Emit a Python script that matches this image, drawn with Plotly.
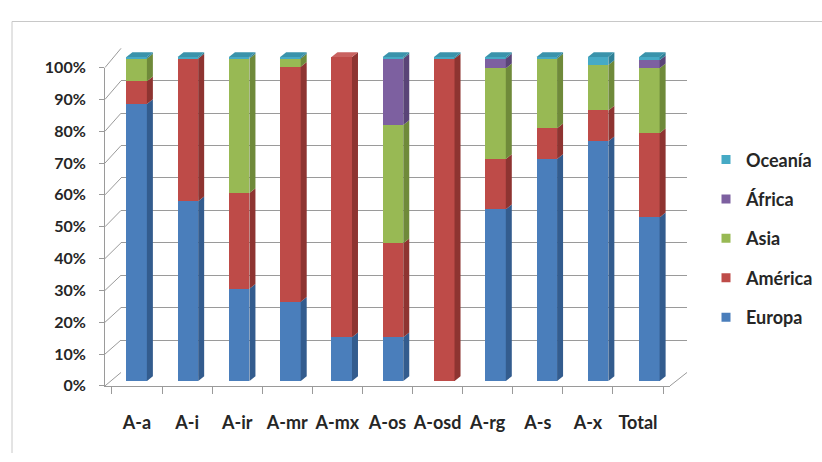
import plotly.graph_objects as go

# ---- data (share of each region per group, %) ----
categories = ["A-a", "A-i", "A-ir", "A-mr", "A-mx", "A-os", "A-osd", "A-rg", "A-s", "A-x", "Total"]
europa  = [85.5, 55.5, 28.5, 24.5, 13.5, 13.5, 0.0, 53.0, 68.5, 74.0, 50.5]
america = [7.0, 44.0, 29.5, 72.5, 86.5, 29.0, 99.5, 15.5, 9.5, 9.5, 26.0]
asia    = [7.0, 0.0, 41.5, 2.5, 0.0, 36.5, 0.0, 28.0, 21.5, 14.0, 20.0]
africa  = [0.0, 0.0, 0.0, 0.0, 0.0, 20.5, 0.0, 3.0, 0.0, 0.0, 2.5]
oceania = [0.5, 0.5, 0.5, 0.5, 0.0, 0.5, 0.5, 0.5, 0.5, 2.5, 1.0]
y_ticks = list(range(0, 101, 10))

# (name, values, front colour, side colour, top colour, legend rank)
series = [
    ("Europa",  europa,  "#4A7EBB", "#335C8E", "#5A8CC6", 5),
    ("América", america, "#BE4B48", "#8E3431", "#C96260", 4),
    ("Asia",    asia,    "#98B954", "#6F8A3A", "#A9C66B", 3),
    ("África",  africa,  "#7D60A0", "#5A4477", "#8F76AF", 2),
    ("Oceanía", oceania, "#46AAC5", "#2F8196", "#3A93AB", 1),
]

W, H = 822, 462


def px(x):
    return x / W


def py(y):
    return 1 - y / H


# pixel geometry of the pseudo-3D box
FRONT_L, FRONT_R = 105, 670          # front floor edge
FRONT_Y0, FRONT_Y100 = 392, 60       # front-left value axis
BACK_L, BACK_R = 121, 687            # back wall
BACK_Y0, BACK_Y100 = 378, 40
BAR_L, BAR_R = 111, 675              # bar plane
BAR_Y0, BAR_Y100 = 387, 49
BAR_YMAX = 103
PX_PER_UNIT = (BAR_Y0 - BAR_Y100) / 100

bar_width = 0.40
depth_dx = 6 / ((BAR_R - BAR_L) / len(categories))
depth_dy = 5 / PX_PER_UNIT

font_family = "Lato, 'Open Sans', sans-serif"
text_color = "#262626"
grid_color = "#9A9A9A"

fig = go.Figure()

# subplot 1: back wall with gridlines
fig.add_trace(go.Scatter(x=[0], y=[None], xaxis="x", yaxis="y", showlegend=False,
                         hoverinfo="skip", mode="markers"))
# subplot 2: front frame carrying the tick labels
fig.add_trace(go.Scatter(x=categories, y=[None] * len(categories), xaxis="x2", yaxis="y2",
                         showlegend=False, hoverinfo="skip", mode="markers"))
# subplot 3: the stacked columns
for name, vals, front, side, top, rank in series:
    fig.add_trace(go.Bar(
        x=categories, y=vals, name=name, xaxis="x3", yaxis="y3",
        marker=dict(color=front, line=dict(width=0)), width=bar_width,
        legendgroup=name, showlegend=False,
    ))
# legend keys with small square swatches
for name, vals, front, side, top, rank in series:
    fig.add_trace(go.Scatter(
        x=[None], y=[None], name=name, xaxis="x", yaxis="y", mode="markers",
        marker=dict(symbol="square", size=9, color=front),
        legendgroup=name, legendrank=rank, hoverinfo="skip",
    ))

shapes = []

# side and top faces of each column, built from the stacked values
for i in range(len(categories)):
    cum = 0.0
    top_col = None
    xl, xr = i - bar_width / 2, i + bar_width / 2
    for name, vals, front, side, top, rank in series:
        v = vals[i]
        if v <= 0:
            continue
        b, t = cum, cum + v
        shapes.append(dict(
            type="path", xref="x3", yref="y3", layer="above",
            path=f"M{xr},{b} L{xr + depth_dx},{b + depth_dy} L{xr + depth_dx},{t + depth_dy} L{xr},{t} Z",
            fillcolor=side, line=dict(width=0),
        ))
        cum = t
        top_col = top
    shapes.append(dict(
        type="path", xref="x3", yref="y3", layer="above",
        path=f"M{xl},{cum} L{xl + depth_dx},{cum + depth_dy} L{xr + depth_dx},{cum + depth_dy} L{xr},{cum} Z",
        fillcolor=top_col, line=dict(width=0),
    ))

# side-wall diagonals joining the front axis to the back gridlines
for v in y_ticks:
    yf = FRONT_Y0 + (FRONT_Y100 - FRONT_Y0) * v / 100
    yb = BACK_Y0 + (BACK_Y100 - BACK_Y0) * v / 100
    shapes.append(dict(type="line", xref="paper", yref="paper", layer="below",
                       x0=px(FRONT_L), y0=py(yf), x1=px(BACK_L), y1=py(yb),
                       line=dict(color=grid_color, width=1)))
# right floor edge
shapes.append(dict(type="line", xref="paper", yref="paper", layer="below",
                   x0=px(FRONT_R), y0=py(FRONT_Y0), x1=px(BACK_R), y1=py(BACK_Y0),
                   line=dict(color=grid_color, width=1)))
# chart area border (left and top edges fall inside the page)
shapes.append(dict(type="line", xref="paper", yref="paper", layer="below",
                   x0=px(12), y0=py(12), x1=1, y1=py(12),
                   line=dict(color="#C8C8C8", width=1)))
shapes.append(dict(type="line", xref="paper", yref="paper", layer="below",
                   x0=px(12), y0=py(12), x1=px(12), y1=0,
                   line=dict(color="#C8C8C8", width=1)))

y_font = dict(family=font_family, size=16, color=text_color, weight="bold")
x_font = dict(family=font_family, size=18, color=text_color, weight="bold")

fig.update_layout(
    width=W, height=H,
    margin=dict(l=0, r=0, t=0, b=0),
    paper_bgcolor="white", plot_bgcolor="rgba(0,0,0,0)",
    barmode="stack",
    shapes=shapes,
    showlegend=True,
    legend=dict(
        x=px(706), y=py(137), xanchor="left", yanchor="top",
        traceorder="grouped", tracegroupgap=13,
        font=dict(family=font_family, size=18, color=text_color, weight="bold"),
        bgcolor="rgba(0,0,0,0)",
    ),
    # back wall
    xaxis=dict(domain=[px(BACK_L), px(BACK_R)], range=[0, 1], showgrid=False,
               showticklabels=False, zeroline=False, showline=False, fixedrange=True),
    yaxis=dict(domain=[py(BACK_Y0), py(BACK_Y100)], range=[0, 100], tickvals=y_ticks,
               showgrid=True, gridcolor=grid_color, gridwidth=1, showticklabels=False,
               zeroline=False, showline=False, fixedrange=True, anchor="x"),
    # front frame with tick labels
    xaxis2=dict(domain=[px(FRONT_L), px(FRONT_R)], type="category",
                categoryorder="array", categoryarray=categories,
                tickson="boundaries", ticks="outside", ticklen=7, tickcolor=grid_color,
                showline=True, linecolor=grid_color, linewidth=1, showgrid=False,
                tickangle=0, ticklabelstandoff=21,
                tickfont=x_font, anchor="y2", fixedrange=True),
    yaxis2=dict(domain=[py(FRONT_Y0), py(FRONT_Y100)], range=[0, 100], tickvals=y_ticks,
                ticktext=[f"{v}%" for v in y_ticks],
                ticks="outside", ticklen=5, tickcolor=grid_color,
                showline=True, linecolor=grid_color, linewidth=1, showgrid=False,
                ticklabelstandoff=10,
                zeroline=False, tickfont=y_font, anchor="x2", fixedrange=True),
    # columns
    xaxis3=dict(domain=[px(BAR_L), px(BAR_R)], type="category",
                categoryorder="array", categoryarray=categories,
                range=[-0.5, len(categories) - 0.5],
                showgrid=False, showticklabels=False, showline=False, ticks="",
                anchor="y3", fixedrange=True),
    yaxis3=dict(domain=[py(BAR_Y0), py(BAR_Y0 - PX_PER_UNIT * BAR_YMAX)],
                range=[0, BAR_YMAX], showgrid=False, showticklabels=False,
                zeroline=False, showline=False, anchor="x3", fixedrange=True),
)

fig.write_html("out.html", config={"displayModeBar": False})
